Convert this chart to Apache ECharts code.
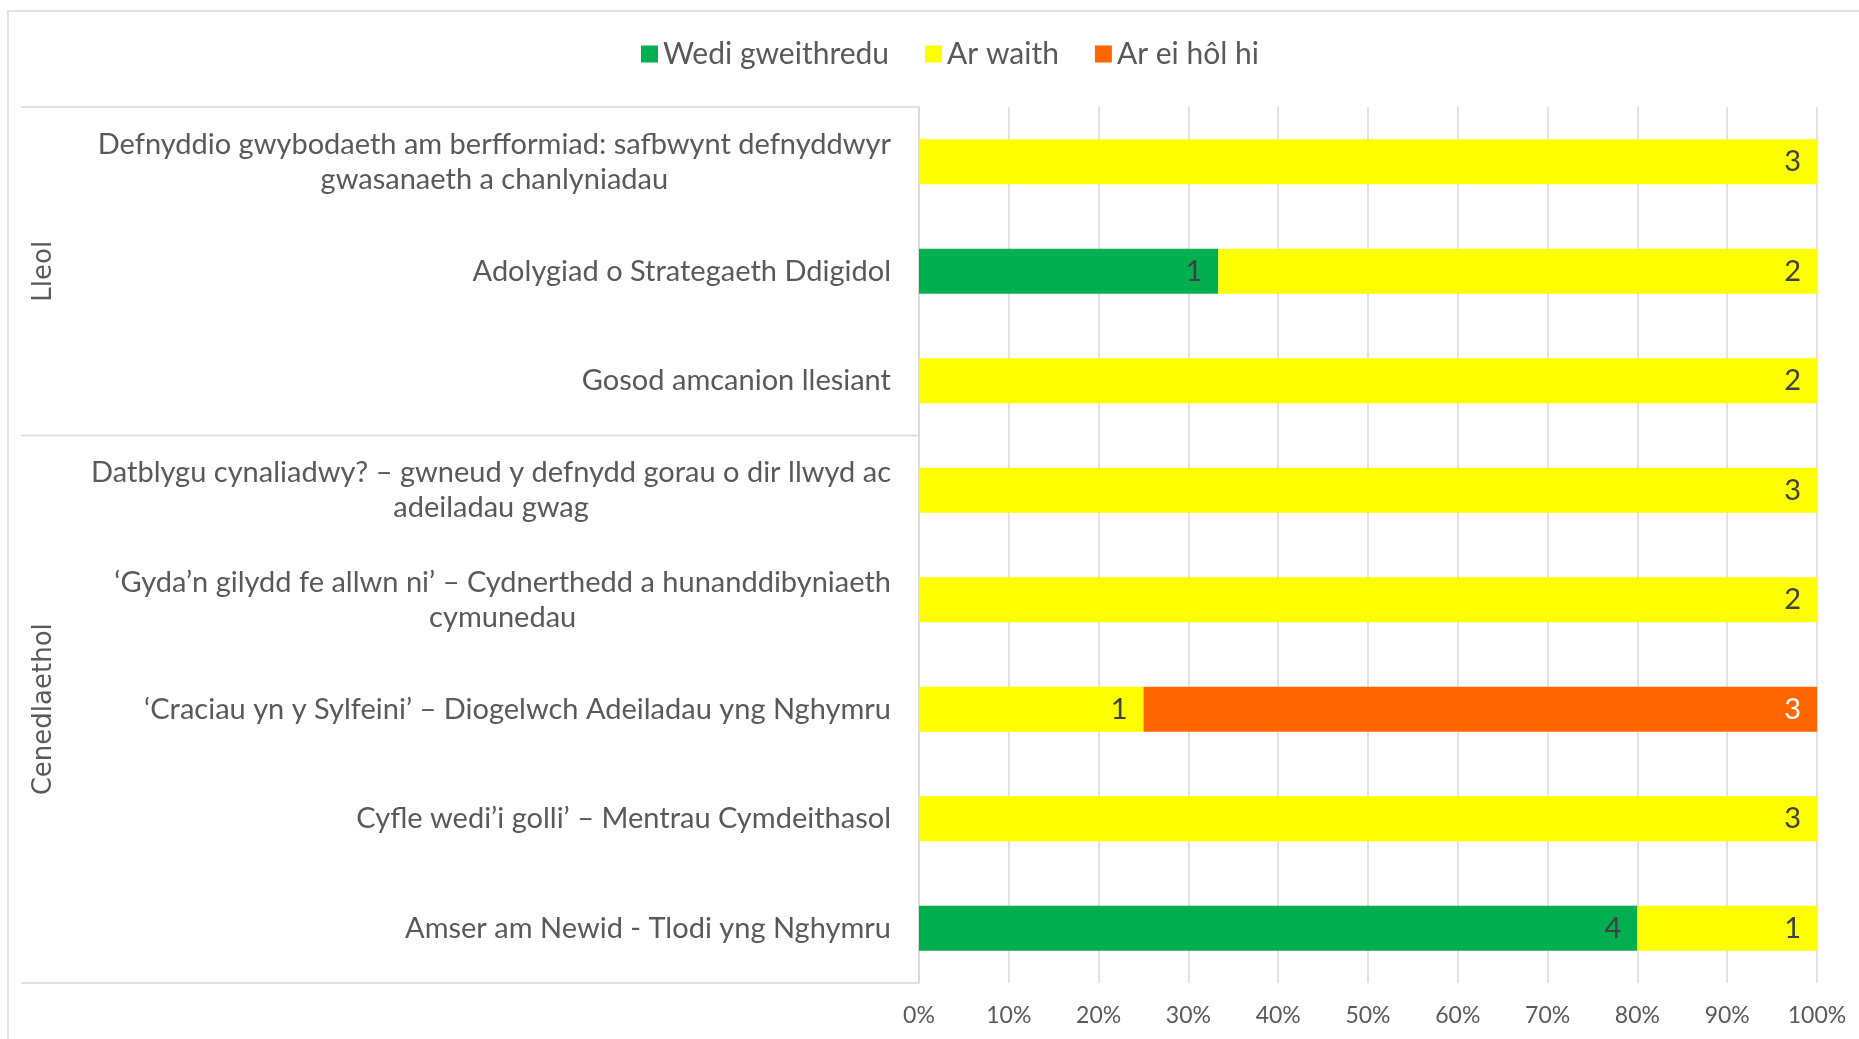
<!DOCTYPE html>
<html>
<head>
<meta charset="utf-8">
<script src="https://cdn.jsdelivr.net/npm/echarts@6/dist/echarts.min.js"></script>
<style>
html,body{margin:0;padding:0;background:#fff;}
#chart{width:1859px;height:1039px;}
</style>
</head>
<body>
<div id="chart"></div>
<script>
const categories = [
  "Defnyddio gwybodaeth am berfformiad: safbwynt defnyddwyr\ngwasanaeth a chanlyniadau",
  "Adolygiad o Strategaeth Ddigidol",
  "Gosod amcanion llesiant",
  "Datblygu cynaliadwy? – gwneud y defnydd gorau o dir llwyd ac\nadeiladau gwag",
  "‘Gyda’n gilydd fe allwn ni’ – Cydnerthedd a hunanddibyniaeth\ncymunedau",
  "‘Craciau yn y Sylfeini’ – Diogelwch Adeiladau yng Nghymru",
  "Cyfle wedi’i golli’ – Mentrau Cymdeithasol",
  "Amser am Newid - Tlodi yng Nghymru"
];
const seriesNames = ["Wedi gweithredu", "Ar waith", "Ar ei hôl hi"];
const wediGweithredu = [0, 1, 0, 0, 0, 0, 0, 4];
const arWaith = [3, 2, 2, 3, 2, 1, 3, 1];
const arEiHolHi = [0, 0, 0, 0, 0, 3, 0, 0];
const groupNames = ["Lleol", "Cenedlaethol"];
const groupSizes = [3, 5];
const xTickValues = [0, 10, 20, 30, 40, 50, 60, 70, 80, 90, 100];

const colors = ["#00B050", "#FFFF00", "#FF6600"];
const labelColors = ["#404040", "#404040", "#FFFFFF"];
const counts = [wediGweithredu, arWaith, arEiHolHi];
const totals = categories.map((c, i) => counts.reduce((s, arr) => s + arr[i], 0));

const chart = echarts.init(document.getElementById('chart'));

const series = seriesNames.map((name, k) => ({
  name: name,
  type: 'bar',
  stack: 'total',
  barWidth: 45,
  itemStyle: { color: colors[k] },
  label: {
    show: true,
    position: 'insideRight',
    distance: 16,
    color: labelColors[k],
    fontFamily: 'Lato',
    fontSize: 29,
    formatter: p => (p.data.count ? String(p.data.count) : '')
  },
  data: counts[k].map((v, i) => ({ value: v / totals[i] * 100, count: v }))
}));

chart.setOption({
  animation: false,
  backgroundColor: '#fff',
  textStyle: { fontFamily: 'Lato' },
  legend: {
    data: seriesNames,
    left: 636,
    top: 34,
    itemWidth: 17,
    itemHeight: 17,
    itemGap: 36,
    icon: 'rect',
    textStyle: { color: '#595959', fontSize: 30, fontFamily: 'Lato' }
  },
  grid: { left: 919, right: 42, top: 107, bottom: 56, containLabel: false },
  xAxis: {
    type: 'value',
    min: 0,
    max: 100,
    interval: 10,
    axisLine: { show: false },
    axisTick: { show: false },
    splitLine: { show: true, lineStyle: { color: '#d9d9d9', width: 1.5 } },
    axisLabel: {
      color: '#595959',
      fontSize: 23,
      fontFamily: 'Lato',
      margin: 21,
      formatter: v => (xTickValues.indexOf(v) >= 0 ? v + '%' : '')
    }
  },
  yAxis: {
    type: 'category',
    inverse: true,
    data: categories,
    axisLine: { show: true, lineStyle: { color: '#d9d9d9', width: 1.5 } },
    axisTick: { show: false },
    axisLabel: {
      color: '#595959',
      fontSize: 29,
      fontFamily: 'Lato',
      margin: 28,
      lineHeight: 35,
      formatter: v => v.split('\n').map(s => '{c|' + s + '}').join('\n'),
      rich: { c: { align: 'center', color: '#595959', fontSize: 29, fontFamily: 'Lato', lineHeight: 35 } }
    }
  },
  series: series
});

// Group separators and group labels on the category axis side
const c0 = chart.convertToPixel({ yAxisIndex: 0 }, 0);
const c1 = chart.convertToPixel({ yAxisIndex: 0 }, 1);
const band = c1 - c0;
const axisX = chart.convertToPixel({ xAxisIndex: 0 }, 0);
const lineLeft = 21;
const graphics = [];
graphics.push({
  type: 'rect', shape: { x: 8, y: 11, width: 3000, height: 3000 },
  style: { fill: 'none', stroke: '#d9d9d9', lineWidth: 1.5 }, silent: true, z: -1
});
let start = 0;
const boundaries = [c0 - band / 2];
groupNames.forEach((g, gi) => {
  const end = start + groupSizes[gi];
  const yTop = chart.convertToPixel({ yAxisIndex: 0 }, start) - band / 2;
  const yBot = chart.convertToPixel({ yAxisIndex: 0 }, end - 1) + band / 2;
  boundaries.push(yBot);
  graphics.push({
    type: 'text',
    x: 44, y: (yTop + yBot) / 2,
    rotation: Math.PI / 2,
    style: { text: g, fill: '#595959', font: '26px "DejaVu Sans"', align: 'center', verticalAlign: 'middle' }
  });
  start = end;
});
boundaries.forEach(y => {
  graphics.push({
    type: 'line', shape: { x1: lineLeft, y1: y, x2: axisX, y2: y },
    style: { stroke: '#d9d9d9', lineWidth: 1.5 }, silent: true
  });
});
chart.setOption({ graphic: graphics });
</script>
</body>
</html>
